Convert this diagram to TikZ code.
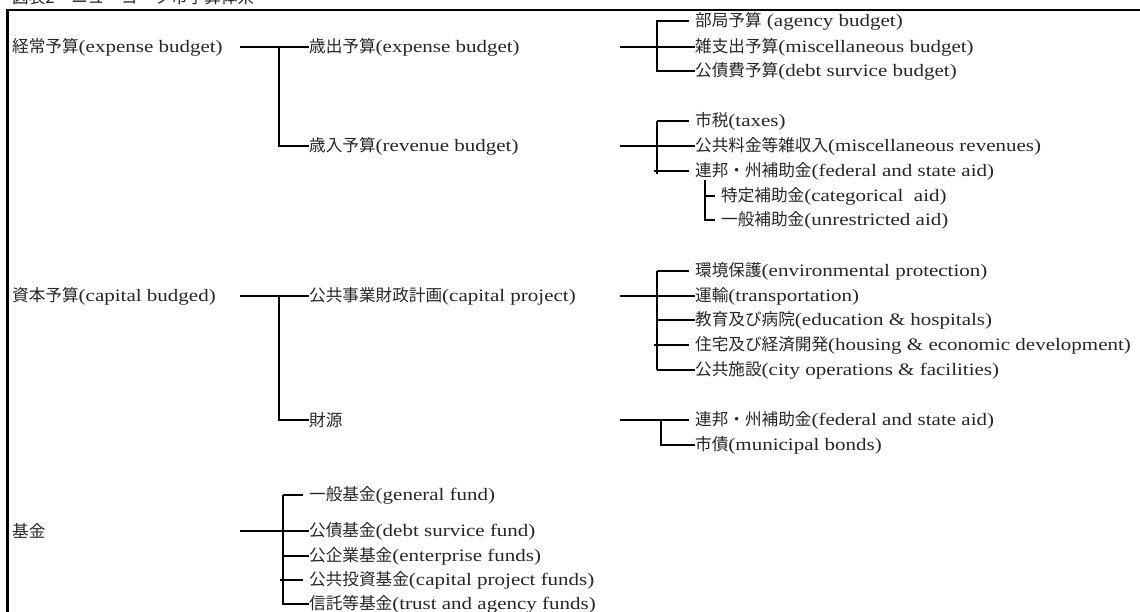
\documentclass[tikz,border=0pt]{standalone}
\usepackage{fontspec}
\setmainfont{Liberation Serif}[FakeStretch=1.2]
\newfontfamily\cjk{Noto Sans CJK JP}[Scale=0.95]
\newcommand\jl[2]{{\cjk #1}#2}
\begin{document}
\begin{tikzpicture}[x=1pt,y=-1pt,
  lbl/.style={anchor=west, inner sep=0pt, font=\fontsize{17.5}{21}\selectfont, text=black!85},
  tree/.style={line width=1.6pt},
  frame/.style={line width=2.6pt}]
\useasboundingbox (0,0) rectangle (1140,612);
% title (clipped at top) and frame
\node[lbl] (title) at (12,-2.5) {\cjk 図表2　ニューヨーク市予算体系};
\coordinate (fb) at (7.5,640);
\coordinate (fc) at (7.5,10);
\coordinate (fr) at (1160,10);
\draw[frame] (fb) -- (fc) -- (fr);

% ---------- level 1 ----------
\node[lbl] (a) at (12,47) {\jl{経常予算}{(expense budget)}};
\node[lbl] (b) at (12,296) {\jl{資本予算}{(capital budged)}};
\node[lbl] (c) at (12,531) {\jl{基金}{}};

% ---------- level 2 ----------
\node[lbl] (a1) at (309,47) {\jl{歳出予算}{(expense budget)}};
\node[lbl] (a2) at (309,146) {\jl{歳入予算}{(revenue budget)}};
\node[lbl] (b1) at (309,296) {\jl{公共事業財政計画}{(capital project)}};
\node[lbl] (b2) at (309,420) {\jl{財源}{}};
\node[lbl] (c1) at (309,495) {\jl{一般基金}{(general fund)}};
\node[lbl] (c2) at (309,531) {\jl{公債基金}{(debt survice fund)}};
\node[lbl] (c3) at (309,556) {\jl{公企業基金}{(enterprise funds)}};
\node[lbl] (c4) at (309,580) {\jl{公共投資基金}{(capital project funds)}};
\node[lbl] (c5) at (309,604) {\jl{信託等基金}{(trust and agency funds)}};

% ---------- level 3 ----------
\node[lbl] (a11) at (695,21) {\jl{部局予算}{ (agency budget)}};
\node[lbl] (a12) at (695,47) {\jl{雑支出予算}{(miscellaneous budget)}};
\node[lbl] (a13) at (695,71) {\jl{公債費予算}{(debt survice budget)}};
\node[lbl] (a21) at (695,121) {\jl{市税}{(taxes)}};
\node[lbl] (a22) at (695,146) {\jl{公共料金等雑収入}{(miscellaneous revenues)}};
\node[lbl] (a23) at (695,171) {\jl{連邦・州補助金}{(federal and state aid)}};
\node[lbl] (a231) at (721,196) {\jl{特定補助金}{(categorical\ \ aid)}};
\node[lbl] (a232) at (721,220) {\jl{一般補助金}{(unrestricted aid)}};
\node[lbl] (b11) at (695,271) {\jl{環境保護}{(environmental protection)}};
\node[lbl] (b12) at (695,296) {\jl{運輸}{(transportation)}};
\node[lbl] (b13) at (695,320) {\jl{教育及び病院}{(education \& hospitals)}};
\node[lbl] (b14) at (695,345) {\jl{住宅及び経済開発}{(housing \& economic development)}};
\node[lbl] (b15) at (695,370) {\jl{公共施設}{(city operations \& facilities)}};
\node[lbl] (b21) at (695,420) {\jl{連邦・州補助金}{(federal and state aid)}};
\node[lbl] (b22) at (695,445) {\jl{市債}{(municipal bonds)}};

% ---------- connectors: level 1 -> 2 ----------
\coordinate (a-s) at (240,47);
\coordinate (a-j) at (279,47);
\draw[tree] (a-s) -- (a1.west);
\draw[tree] (a-j) |- (a2.west);

\coordinate (b-s) at (240,296);
\coordinate (b-j) at (279,296);
\draw[tree] (b-s) -- (b1.west);
\draw[tree] (b-j) |- (b2.west);

\coordinate (c-s) at (240,531);
\coordinate (c-j) at (283,531);
\coordinate (c-t) at (283,495);
\coordinate (c-b) at (283,604);
\coordinate (c-k) at (280,580);
\draw[tree] (c-s) -- (c2.west);
\draw[tree] (c-t) -- (c-b);
\draw[tree] (c-t) -- ([xshift=-6pt]c1.west);
\draw[tree] (c-j) |- (c3.west);
\draw[tree] (c-k) -- ([xshift=-6pt]c4.west);
\draw[tree] (c-j) |- (c5.west);

% ---------- connectors: level 2 -> 3 ----------
% expense budget
\coordinate (a1-s) at (620,47);
\coordinate (a1-j) at (657,47);
\draw[tree] (a1-s) -- (a12.west);
\draw[tree] (a1-j) |- ([xshift=-6pt]a11.west);
\draw[tree] (a1-j) |- (a13.west);

% revenue budget
\coordinate (a2-s) at (620,146);
\coordinate (a2-j) at (657,146);
\coordinate (a2-t) at (657,121);
\coordinate (a2-b) at (657,174);
\coordinate (a2-k) at (654,171);
\draw[tree] (a2-s) -- (a22.west);
\draw[tree] (a2-t) -- (a2-b);
\draw[tree] (a2-t) -- ([xshift=-6pt]a21.west);
\draw[tree] (a2-k) -- ([xshift=-6pt]a23.west);
% state aid sub-branches
\coordinate (a23-t) at (705,180);
\draw[tree] (a23-t) |- ([xshift=-6pt]a231.west);
\draw[tree] (a23-t) |- ([xshift=-6pt]a232.west);

% capital project
\coordinate (b1-s) at (620,296);
\coordinate (b1-j) at (657,296);
\coordinate (b1-t) at (657,271);
\coordinate (b1-b) at (657,370);
\coordinate (b1-k) at (654,345);
\draw[tree] (b1-s) -- (b12.west);
\draw[tree] (b1-t) -- (b1-b);
\draw[tree] (b1-t) -- ([xshift=-6pt]b11.west);
\draw[tree] (b1-j) |- (b13.west);
\draw[tree] (b1-k) -- ([xshift=-6pt]b14.west);
\draw[tree] (b1-b) -- (b15.west);

% sources
\coordinate (b2-s) at (620,420);
\coordinate (b2-j) at (661,420);
\draw[tree] (b2-s) -- ([xshift=-6pt]b21.west);
\draw[tree] (b2-j) |- (b22.west);
\end{tikzpicture}
\end{document}
